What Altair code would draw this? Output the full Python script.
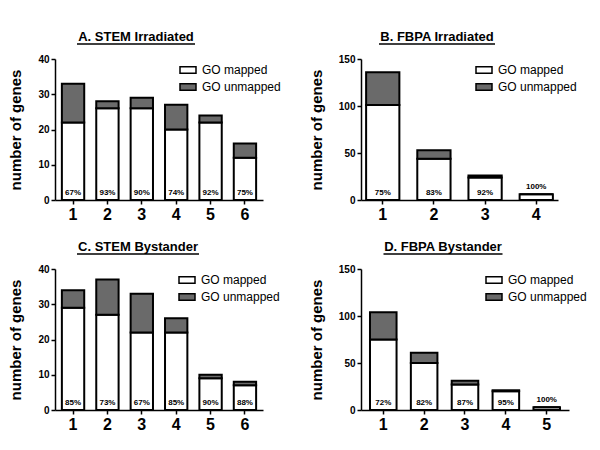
import altair as alt
import pandas as pd

FONT = "Liberation Sans"

# ---- data ----
titles = ["A. STEM Irradiated", "B. FBPA Irradiated", "C. STEM Bystander", "D. FBPA Bystander"]

cats_A = ["1", "2", "3", "4", "5", "6"]
mapped_A = [22, 26, 26, 20, 22, 12]
unmapped_A = [11, 2, 3, 7, 2, 4]
pct_A = ["67%", "93%", "90%", "74%", "92%", "75%"]

cats_B = ["1", "2", "3", "4"]
mapped_B = [101, 44, 24, 6]
unmapped_B = [35, 9, 2, 0]
pct_B = ["75%", "83%", "92%", "100%"]

cats_C = ["1", "2", "3", "4", "5", "6"]
mapped_C = [29, 27, 22, 22, 9, 7]
unmapped_C = [5, 10, 11, 4, 1, 1]
pct_C = ["85%", "73%", "67%", "85%", "90%", "88%"]

cats_D = ["1", "2", "3", "4", "5"]
mapped_D = [75, 50, 27, 20, 3]
unmapped_D = [29, 11, 4, 1, 0]
pct_D = ["72%", "82%", "87%", "95%", "100%"]

segments = ["GO mapped", "GO unmapped"]
y_ticks_small = [0, 10, 20, 30, 40]
y_ticks_big = [0, 50, 100, 150]


def panel(title, cats, mapped, unmapped, pcts, yticks, width, pad_outer,
          title_cx, ul_w, leg_x):
    ymax = yticks[-1]
    rows = []
    for c, m, u in zip(cats, mapped, unmapped):
        rows.append({"cat": c, "seg": segments[0], "val": m, "ord": 0})
        rows.append({"cat": c, "seg": segments[1], "val": u, "ord": 1})
    df = pd.DataFrame(rows)

    lab = pd.DataFrame({
        "cat": cats,
        "pct": pcts,
        "ly": [(m + u) if (m + u) / ymax < 0.1 else 0 for m, u in zip(mapped, unmapped)],
    })

    xs = alt.X("cat:N", sort=cats,
               scale=alt.Scale(domain=cats, paddingInner=0.35, paddingOuter=pad_outer),
               axis=alt.Axis(title=None, labelAngle=0, labelFontSize=16,
                             labelFontWeight="bold", labelPadding=2))
    yscale = alt.Scale(domain=[0, ymax], nice=False)
    yaxis = alt.Axis(values=yticks, title="number of genes", titleFontSize=15,
                     titleFontWeight="bold", labelFontSize=10, labelFontWeight="bold",
                     titlePadding=14)

    bars = alt.Chart(df).mark_bar(stroke="black", strokeWidth=2).encode(
        x=xs,
        y=alt.Y("val:Q", stack="zero", scale=yscale, axis=yaxis),
        fill=alt.Fill("seg:N",
                      scale=alt.Scale(domain=segments, range=["white", "#6a6a6a"]),
                      legend=alt.Legend(title=None, orient="none", legendX=leg_x,
                                        legendY=2, direction="vertical")),
        order=alt.Order("ord:Q"),
    )

    text = alt.Chart(lab).mark_text(fontSize=8, fontWeight="bold", font=FONT,
                                    baseline="bottom", dy=-3, color="black").encode(
        x=xs,
        y=alt.Y("ly:Q", scale=yscale, axis=yaxis),
        text="pct:N",
    )

    tdf = pd.DataFrame({"t": [title]})
    ttl = alt.Chart(tdf).mark_text(fontSize=13, fontWeight="bold", font=FONT,
                                   baseline="alphabetic", align="center",
                                   color="black").encode(
        text="t:N", x=alt.value(title_cx), y=alt.value(-18))
    ul = alt.Chart(tdf).mark_rule(color="black", strokeWidth=1.5).encode(
        x=alt.value(title_cx - ul_w / 2), x2=alt.value(title_cx + ul_w / 2),
        y=alt.value(-15))

    return alt.layer(bars, text, ttl, ul).properties(width=width, height=141)


pA = panel(titles[0], cats_A, mapped_A, unmapped_A, pct_A, y_ticks_small, 208, 0.2, 81, 118, 124)
pB = panel(titles[1], cats_B, mapped_B, unmapped_B, pct_B, y_ticks_big, 197, 0.1, 76, 116, 114)
pC = panel(titles[2], cats_C, mapped_C, unmapped_C, pct_C, y_ticks_small, 208, 0.2, 83, 122, 123)
pD = panel(titles[3], cats_D, mapped_D, unmapped_D, pct_D, y_ticks_big, 208, 0.22, 82, 119, 124)

chart = alt.concat(pA, pB, pC, pD, columns=2, spacing={"row": 19, "column": 28}).resolve_scale(
    x="independent", y="independent", fill="independent"
).resolve_legend(fill="independent").configure(
    font=FONT, padding={"left": 0, "top": 23, "right": 0, "bottom": 0}
).configure_view(stroke=None).configure_axis(
    domainColor="black", domainWidth=1.5, tickColor="black", tickWidth=1.5,
    tickSize=4, labelColor="black", titleColor="black", grid=False,
    labelFont=FONT, titleFont=FONT
).configure_legend(
    symbolType="M-1,-0.42H1V0.42H-1Z", symbolSize=256, symbolStrokeColor="black",
    symbolStrokeWidth=1.5, labelFontSize=12, labelFont=FONT, labelColor="black",
    labelOffset=5, rowPadding=1, padding=0
)

chart.save("out.html", embed_options={"renderer": "svg", "actions": False})
